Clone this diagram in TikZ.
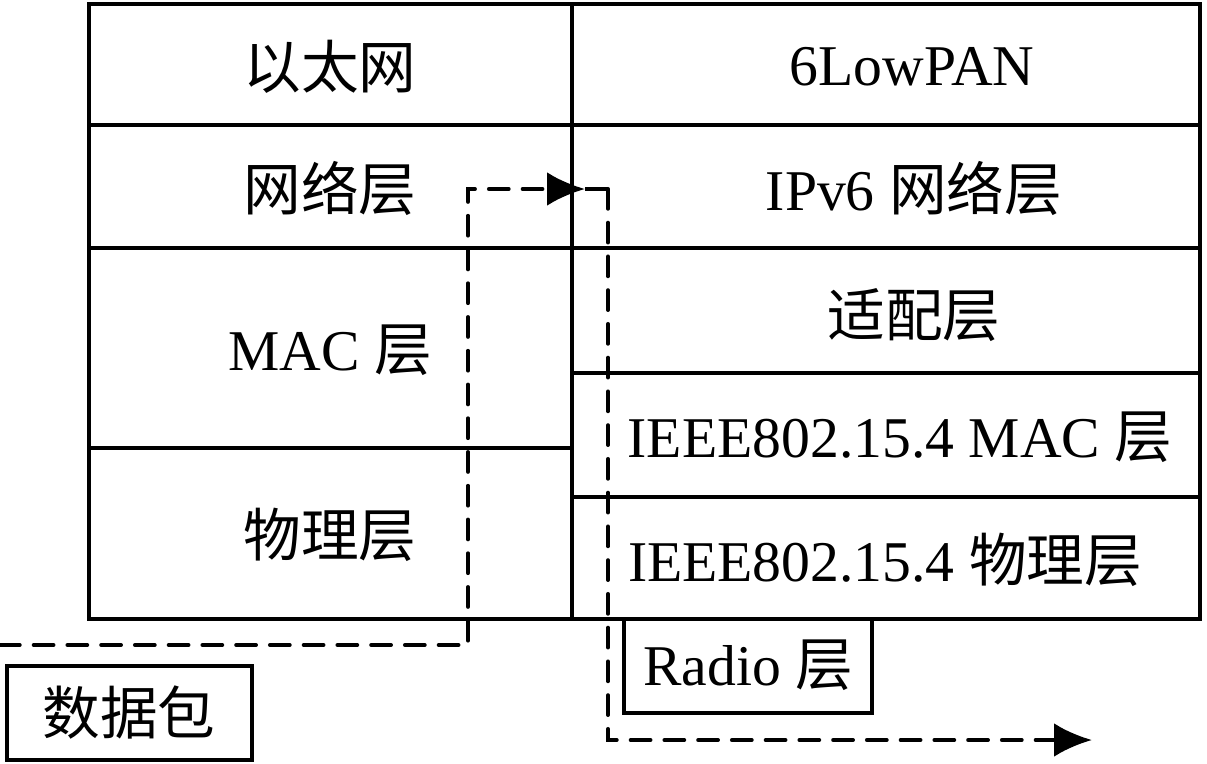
\documentclass[tikz,border=0pt]{standalone}
\usepackage{fontspec}
\setmainfont{Liberation Serif}
\newfontfamily\cjk{Noto Sans CJK SC}
\usetikzlibrary{arrows.meta}
\tikzset{
  grid/.style={line width=3.3pt, line cap=rect},
  lbl/.style={inner sep=0pt, font=\fontsize{41}{45}\selectfont},
  flow/.style={line width=2.9pt, dash pattern=on 14pt off 10pt, line cap=round},
  tip/.style={-{Latex[length=27pt,width=24pt]}}
}
\begin{document}
\begin{tikzpicture}[x=0.025cm,y=-0.025cm]
\useasboundingbox (0,0) rectangle (1207,763);
% table grid
\draw[grid] (89,4) rectangle (1200,619);
\draw[grid] (572,4) -- (572,619);
\draw[grid] (89,125) -- (1200,125);
\draw[grid] (89,248) -- (1200,248);
\draw[grid] (89,448) -- (572,448);
\draw[grid] (572,373) -- (1200,373);
\draw[grid] (572,497) -- (1200,497);
% labels
\node[lbl] (eth) at (330,67) {\cjk 以太网};
\node[lbl] (lowpan) at (912,67) {6LowPAN};
\node[lbl] (net) at (330,188) {\cjk 网络层};
\node[lbl] (ipv6) at (914,188) {IPv6 {\cjk 网络层}};
\node[lbl] (adapt) at (914,315) {\cjk 适配层};
\node[lbl] (mac) at (330,350) {MAC {\cjk 层}};
\node[lbl] (ieeemac) at (900,437) {IEEE802.15.4 MAC {\cjk 层}};
\node[lbl] (phy) at (330,535) {\cjk 物理层};
\node[lbl] (ieeephy) at (885,560) {IEEE802.15.4 {\cjk 物理层}};
% radio and packet boxes
\draw[grid] (624,619) rectangle (872,713);
\node[lbl] (radio) at (748,665) {Radio {\cjk 层}};
\draw[grid] (7,666) rectangle (252,760);
\node[lbl] (pkt) at (129,713) {\cjk 数据包};
% flow path
\coordinate (s) at (0,645);
\coordinate (c1) at (468,645);
\coordinate (c2) at (468,189);
\coordinate (a1) at (585,189);
\coordinate (c3) at (608,189);
\coordinate (c4) at (608,740);
\coordinate (e) at (1092,740);
\draw[flow,tip] (s) -- (c1) -- (c2) -- (a1);
\draw[line width=2.9pt] (a1) -- (c3);
\draw[flow,tip] (c3) -- (c4) -- (e);
\end{tikzpicture}
\end{document}
